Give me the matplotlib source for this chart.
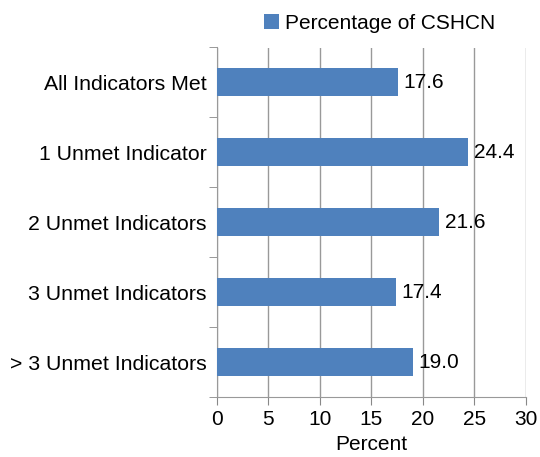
import matplotlib
matplotlib.use("Agg")
import matplotlib.pyplot as plt

categories = ["All Indicators Met", "1 Unmet Indicator", "2 Unmet Indicators",
              "3 Unmet Indicators", "> 3 Unmet Indicators"]
values = [17.6, 24.4, 21.6, 17.4, 19.0]
series_name = "Percentage of CSHCN"
xticks = [0, 5, 10, 15, 20, 25, 30]

plt.rcParams['font.family'] = ['Liberation Sans', 'DejaVu Sans']
fig = plt.figure(figsize=(5.4, 4.57), dpi=100)
ax = fig.add_axes([216.5 / 540, 1 - 397 / 457, (526 - 216.5) / 540, (397 - 47.5) / 457])

pos = list(range(len(categories)))
bars = ax.barh(pos, values, height=0.4, color="#4F81BD", label=series_name, zorder=3)
for y, v in zip(pos, values):
    ax.text(v + 0.55, y, f"{v:.1f}", va="center", ha="left", fontsize=15, zorder=4)

ax.set_ylim(len(categories) - 0.5, -0.5)
ax.set_xlim(0, 30)
ax.set_xticks(xticks)
ax.set_yticks(pos)
ax.set_yticklabels(categories, fontsize=15.3)
ax.tick_params(axis="y", length=0, pad=7)
ax.tick_params(axis="x", labelsize=15, color="#888888", length=6, direction="out")
ax.set_yticks([p - 0.5 for p in pos] + [len(pos) - 0.5], minor=True)
ax.tick_params(axis="y", which="minor", length=6, color="#888888")
ax.grid(axis="x", color="#999999", linewidth=1, zorder=0)
for s in ["top", "right"]:
    ax.spines[s].set_visible(False)
for s in ["left", "bottom"]:
    ax.spines[s].set_color("#999999")
ax.set_xlabel("Percent", fontsize=15, labelpad=4)

ax.legend(loc="lower center", bbox_to_anchor=(0.528, 1.0), frameon=False, fontsize=15,
          handlelength=0.7, handleheight=0.7, handletextpad=0.3, borderaxespad=0.3)

fig.savefig("out.png", dpi=100)
